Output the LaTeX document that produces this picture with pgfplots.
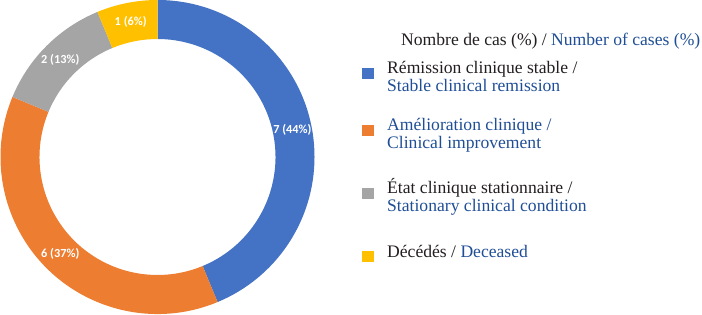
\documentclass[border=0pt]{standalone}
\usepackage{pgfplots}
\pgfplotsset{compat=1.18}
\usepackage{pgfplotstable}
\usepackage{fontspec}
\setmainfont{Liberation Serif}
\newfontfamily\labelfont{Carlito}

\definecolor{remission}{HTML}{4472C4}
\definecolor{improve}{HTML}{ED7D31}
\definecolor{stationary}{HTML}{A5A5A5}
\definecolor{deceased}{HTML}{FFC000}
\definecolor{entext}{HTML}{1F4E96}
\definecolor{frtext}{HTML}{231F20}

% number of cases and rounded share for each outcome
\pgfplotstableread{
n pct
7 44
6 37
2 13
1 6
}\casestable

\begin{document}
\begin{tikzpicture}
\pgfplotstablegetelem{0}{n}\of\casestable \edef\nA{\pgfplotsretval}
\pgfplotstablegetelem{1}{n}\of\casestable \edef\nB{\pgfplotsretval}
\pgfplotstablegetelem{2}{n}\of\casestable \edef\nC{\pgfplotsretval}
\pgfplotstablegetelem{3}{n}\of\casestable \edef\nD{\pgfplotsretval}
\pgfplotstablegetelem{0}{pct}\of\casestable \edef\pA{\pgfplotsretval}
\pgfplotstablegetelem{1}{pct}\of\casestable \edef\pB{\pgfplotsretval}
\pgfplotstablegetelem{2}{pct}\of\casestable \edef\pC{\pgfplotsretval}
\pgfplotstablegetelem{3}{pct}\of\casestable \edef\pD{\pgfplotsretval}
% slice boundaries, clockwise from the top
\pgfmathsetmacro\tot{\nA+\nB+\nC+\nD}
\pgfmathsetmacro\aO{90}
\pgfmathsetmacro\aA{\aO-360*\nA/\tot}
\pgfmathsetmacro\aB{\aA-360*\nB/\tot}
\pgfmathsetmacro\aC{\aB-360*\nC/\tot}
\pgfmathsetmacro\aD{\aC-360*\nD/\tot}
\pgfmathsetmacro\mA{(\aO+\aA)/2}
\pgfmathsetmacro\mB{(\aA+\aB)/2}
\pgfmathsetmacro\mC{(\aB+\aC)/2}
\pgfmathsetmacro\mD{(\aC+\aD)/2}
\newcommand\ring[3]{%
  \fill[#3] ([shift={(#1:157bp)}]axis cs:157.5,157)
    arc[start angle=#1,end angle=#2,radius=157bp]
    -- ([shift={(#2:118bp)}]axis cs:157.5,157)
    arc[start angle=#2,end angle=#1,radius=118bp] -- cycle;}
\newcommand\slicelabel[3]{%
  \node[text=white,font=\labelfont\bfseries\fontsize{12.3bp}{14bp}\selectfont,inner sep=0pt]
    at ([shift={(#1:137.5bp)}]axis cs:157.5,157) {#2 (#3\%)};}
\newcommand\swatch[2]{%
  \fill[#1] (axis cs:362,314-#2-6) rectangle (axis cs:373.5,314-#2+5.5);}
\newcommand\legline[3]{%
  \node[anchor=base west,inner sep=0pt,text=#1,
        font=\fontsize{17.6bp}{18bp}\selectfont] at (axis cs:387,314-#2) {#3};}
\begin{axis}[
  hide axis, clip=false,
  x=1bp, y=1bp,
  xmin=0, xmax=702, ymin=0, ymax=314,
]
\coordinate (SW) at (axis cs:0,0);
\coordinate (NE) at (axis cs:702,314);
\ring{\aO}{\aA}{remission}
\ring{\aA}{\aB}{improve}
\ring{\aB}{\aC}{stationary}
\ring{\aC}{\aD}{deceased}
\slicelabel{\mA}{\nA}{\pA}
\slicelabel{\mB}{\nB}{\pB}
\slicelabel{\mC}{\nC}{\pC}
\slicelabel{\mD}{\nD}{\pD}
% legend
\node[anchor=base west,inner sep=0pt,font=\fontsize{17.6bp}{18bp}\selectfont]
  at (axis cs:401,314-45)
  {\textcolor{frtext}{Nombre de cas (\%) /} \textcolor{entext}{Number of cases (\%)}};
\swatch{remission}{73}
\legline{frtext}{73}{Rémission clinique stable /}
\legline{entext}{91}{Stable clinical remission}
\swatch{improve}{130}
\legline{entext}{130}{Amélioration clinique /}
\legline{entext}{148}{Clinical improvement}
\swatch{stationary}{193}
\legline{frtext}{193}{État clinique stationnaire /}
\legline{entext}{211}{Stationary clinical condition}
\swatch{deceased}{256}
\legline{frtext}{257}{\textcolor{frtext}{Décédés /} \textcolor{entext}{Deceased}}
\end{axis}
\pgfresetboundingbox
\path[use as bounding box] (SW) rectangle (NE);
\end{tikzpicture}
\end{document}
